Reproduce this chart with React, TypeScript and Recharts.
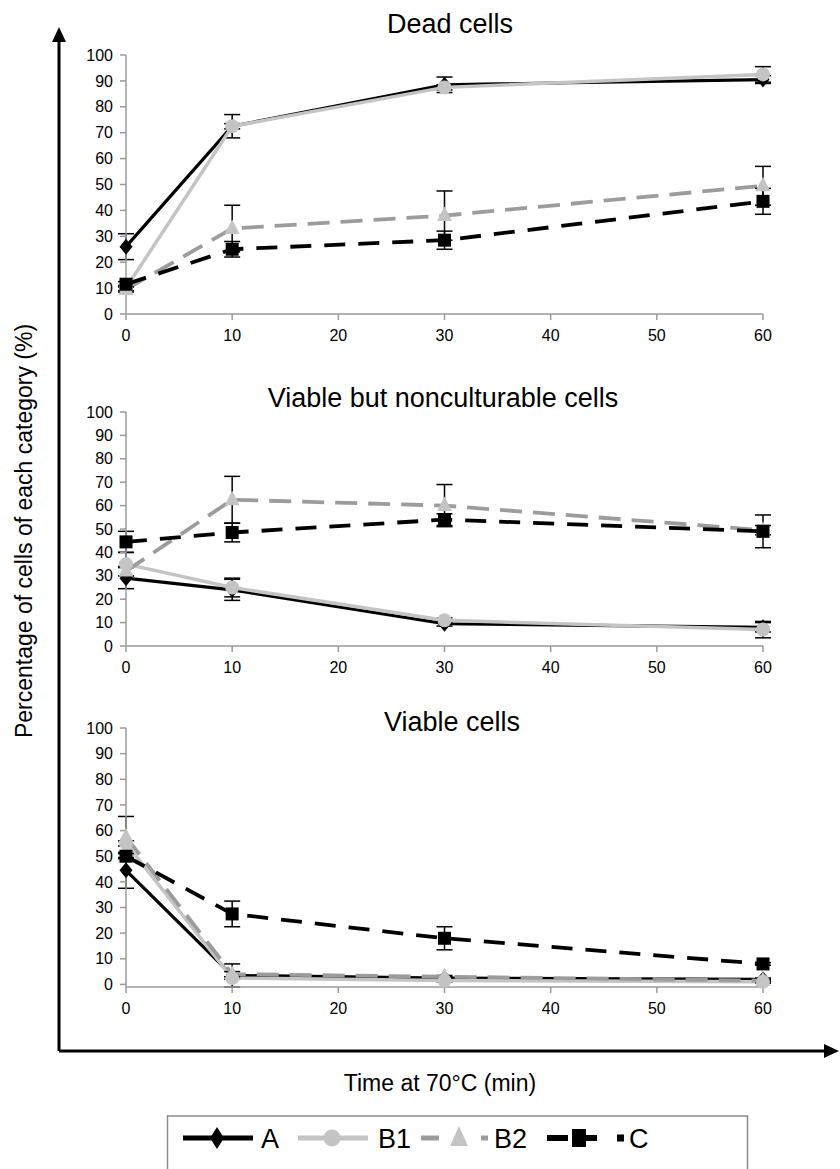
import React from 'react';
import { LineChart, Line, XAxis, YAxis, ErrorBar } from 'recharts';

// ---- data ----
const times = [0, 10, 30, 60];
const xTicks = [0, 10, 20, 30, 40, 50, 60];
const yTicks = [0, 10, 20, 30, 40, 50, 60, 70, 80, 90, 100];
const seriesNames = ['A', 'B1', 'B2', 'C'];
const panelTitles = ['Dead cells', 'Viable but nonculturable cells', 'Viable cells'];
const yAxisLabel = 'Percentage of cells of each category (%)';
const xAxisLabel = 'Time at 70°C (min)';

// Dead cells
const deadA = [26, 72.5, 88.5, 90.5];
const deadAErr = [5, 4.5, 3, 1.5];
const deadB1 = [10, 72.5, 87.5, 92.5];
const deadB1Err = [1, 1, 1, 3];
const deadB2 = [9.5, 33, 38, 49.5];
const deadB2Err = [1, 9, 9.5, 7.5];
const deadC = [11.5, 25, 28.5, 43.5];
const deadCErr = [1, 3, 3.5, 5];

// Viable but nonculturable cells
const vbncA = [29, 24, 9.5, 8];
const vbncAErr = [4.5, 4.5, 1, 2];
const vbncB1 = [35, 25, 11, 7];
const vbncB1Err = [5, 4, 1, 3.5];
const vbncB2 = [32, 62.5, 60, 49.5];
const vbncB2Err = [2, 10, 9, 2];
const vbncC = [44.5, 48.5, 54, 49];
const vbncCErr = [4.5, 4, 2.5, 7];

// Viable cells
const viaA = [44.5, 3.5, 2.5, 2];
const viaAErr = [7, 4.5, 0.5, 0.5];
const viaB1 = [55, 2.5, 1.5, 1];
const viaB1Err = [1, 0.5, 0.5, 0.5];
const viaB2 = [57.5, 4, 3, 1.5];
const viaB2Err = [8, 1, 0.5, 0.5];
const viaC = [50, 27.5, 18, 8];
const viaCErr = [1, 5, 4.5, 0.5];

const build = (a: number[], ae: number[], b1: number[], b1e: number[], b2: number[], b2e: number[], c: number[], ce: number[]) =>
  times.map((t, i) => ({ t, A: a[i], AErr: ae[i], B1: b1[i], B1Err: b1e[i], B2: b2[i], B2Err: b2e[i], C: c[i], CErr: ce[i] }));

const deadData = build(deadA, deadAErr, deadB1, deadB1Err, deadB2, deadB2Err, deadC, deadCErr);
const vbncData = build(vbncA, vbncAErr, vbncB1, vbncB1Err, vbncB2, vbncB2Err, vbncC, vbncCErr);
const viaData = build(viaA, viaAErr, viaB1, viaB1Err, viaB2, viaB2Err, viaC, viaCErr);

// ---- styles ----
const FONT = '"Liberation Sans", Arial, Helvetica, sans-serif';
const AXIS_GRAY = '#9a9a9a';
const LIGHT = '#c4c4c4';
const MID = '#9c9c9c';

const diamondDot = (p: any) => {
  const { cx, cy, index } = p;
  if (cx == null || cy == null) return <g key={`d-${index}`} />;
  return <path key={`d-${index}`} d={`M${cx},${cy - 8} L${cx + 6.5},${cy} L${cx},${cy + 8} L${cx - 6.5},${cy} Z`} fill="#000" />;
};
const circleDot = (p: any) => {
  const { cx, cy, index } = p;
  if (cx == null || cy == null) return <g key={`c-${index}`} />;
  return <circle key={`c-${index}`} cx={cx} cy={cy} r={7} fill={LIGHT} />;
};
const triangleDot = (p: any) => {
  const { cx, cy, index } = p;
  if (cx == null || cy == null) return <g key={`t-${index}`} />;
  return <path key={`t-${index}`} d={`M${cx},${cy - 9} L${cx + 7.5},${cy + 5.5} L${cx - 7.5},${cy + 5.5} Z`} fill={LIGHT} />;
};
const squareDot = (p: any) => {
  const { cx, cy, index } = p;
  if (cx == null || cy == null) return <g key={`s-${index}`} />;
  return <rect key={`s-${index}`} x={cx - 6.5} y={cy - 6.5} width={13} height={13} fill="#000" />;
};

type PanelProps = { data: any[]; top: number; height: number; marginTop: number };

const Panel = ({ data, top, height, marginTop }: PanelProps) => (
  <div style={{ position: 'absolute', left: 0, top, width: 840, height }}>
    <LineChart width={840} height={height} data={data} margin={{ top: marginTop, right: 77, bottom: 16, left: 86 }}>
      <XAxis
        dataKey="t"
        type="number"
        domain={[0, 60]}
        ticks={xTicks}
        interval={0}
        height={30}
        tickSize={6}
        tickMargin={10}
        axisLine={{ stroke: AXIS_GRAY, strokeWidth: 1.5 }}
        tickLine={{ stroke: AXIS_GRAY, strokeWidth: 1.5 }}
        tick={{ fill: '#000', fontSize: 16, fontFamily: FONT }}
      />
      <YAxis
        type="number"
        domain={[0, 100]}
        ticks={yTicks}
        interval={0}
        width={40}
        tickSize={6}
        tickMargin={7}
        axisLine={{ stroke: AXIS_GRAY, strokeWidth: 1.5 }}
        tickLine={{ stroke: AXIS_GRAY, strokeWidth: 1.5 }}
        tick={{ fill: '#000', fontSize: 16, fontFamily: FONT }}
      />
      <Line dataKey="A" type="linear" stroke="#000" strokeWidth={3.2} dot={diamondDot} activeDot={false} isAnimationActive={false}>
        <ErrorBar dataKey="AErr" width={8} stroke="#000" strokeWidth={1.5} direction="y" />
      </Line>
      <Line dataKey="B1" type="linear" stroke={LIGHT} strokeWidth={3.5} dot={circleDot} activeDot={false} isAnimationActive={false}>
        <ErrorBar dataKey="B1Err" width={8} stroke="#000" strokeWidth={1.5} direction="y" />
      </Line>
      <Line dataKey="B2" type="linear" stroke={MID} strokeWidth={3.8} strokeDasharray="22 11" dot={triangleDot} activeDot={false} isAnimationActive={false}>
        <ErrorBar dataKey="B2Err" width={8} stroke="#000" strokeWidth={1.5} direction="y" />
      </Line>
      <Line dataKey="C" type="linear" stroke="#000" strokeWidth={3.8} strokeDasharray="21 13" dot={squareDot} activeDot={false} isAnimationActive={false}>
        <ErrorBar dataKey="CErr" width={8} stroke="#000" strokeWidth={1.5} direction="y" />
      </Line>
    </LineChart>
  </div>
);

const Legend = () => {
  const cy = 1138;
  return (
    <g>
      <rect x={167.5} y={1116} width={580} height={62} fill="none" stroke="#8a8a8a" strokeWidth={1.5} />
      {/* A */}
      <line x1={183} y1={cy} x2={253} y2={cy} stroke="#000" strokeWidth={5} />
      <path d={`M217,${cy - 11} L224,${cy} L217,${cy + 11} L210,${cy} Z`} fill="#000" />
      <text x={261} y={cy + 10} fontSize={27} fontFamily={FONT}>{seriesNames[0]}</text>
      {/* B1 */}
      <line x1={298} y1={cy} x2={368} y2={cy} stroke={LIGHT} strokeWidth={5} />
      <circle cx={332} cy={cy} r={8.5} fill={LIGHT} />
      <text x={378} y={cy + 10} fontSize={27} fontFamily={FONT}>{seriesNames[1]}</text>
      {/* B2 */}
      <line x1={421} y1={cy} x2={439} y2={cy} stroke={MID} strokeWidth={5} />
      <path d={`M459,${cy - 12} L468,${cy + 8} L450,${cy + 8} Z`} fill={LIGHT} />
      <line x1={481} y1={cy} x2={488} y2={cy} stroke={MID} strokeWidth={5} />
      <text x={494} y={cy + 10} fontSize={27} fontFamily={FONT}>{seriesNames[2]}</text>
      {/* C */}
      <line x1={547} y1={cy} x2={568} y2={cy} stroke="#000" strokeWidth={6} />
      <rect x={572} y={cy - 9} width={14} height={18} fill="#000" />
      <line x1={586} y1={cy} x2={597} y2={cy} stroke="#000" strokeWidth={6} />
      <rect x={617} y={cy - 3.5} width={7} height={7} fill="#000" />
      <text x={629} y={cy + 10} fontSize={27} fontFamily={FONT}>{seriesNames[3]}</text>
    </g>
  );
};

export default function App() {
  return (
    <div style={{ position: 'absolute', left: 0, top: 0, width: 840, height: 1169, background: '#fff', overflow: 'hidden', fontFamily: FONT }}>
      <svg width={840} height={1169} style={{ position: 'absolute', left: 0, top: 0 }}>
        {/* big axes */}
        <line x1={59} y1={1051} x2={59} y2={40} stroke="#000" strokeWidth={3} />
        <path d="M59,27 L66,42 L52,42 Z" fill="#000" />
        <line x1={59} y1={1051} x2={826} y2={1051} stroke="#000" strokeWidth={3} />
        <path d="M839,1051 L824,1044 L824,1058 Z" fill="#000" />
        {/* titles */}
        <text x={450} y={33} textAnchor="middle" fontSize={27} fontFamily={FONT}>{panelTitles[0]}</text>
        <text x={443} y={407} textAnchor="middle" fontSize={27} fontFamily={FONT}>{panelTitles[1]}</text>
        <text x={452} y={731} textAnchor="middle" fontSize={27} fontFamily={FONT}>{panelTitles[2]}</text>
        {/* axis labels */}
        <text x={0} y={0} transform="translate(32,531) rotate(-90)" textAnchor="middle" fontSize={23} fontFamily={FONT}>{yAxisLabel}</text>
        <text x={440} y={1091} textAnchor="middle" fontSize={23} fontFamily={FONT}>{xAxisLabel}</text>
        <Legend />
      </svg>
      <Panel data={deadData} top={0} height={360} marginTop={55} />
      <Panel data={vbncData} top={380} height={312} marginTop={32} />
      <Panel data={viaData} top={700} height={333} marginTop={28} />
    </div>
  );
}
